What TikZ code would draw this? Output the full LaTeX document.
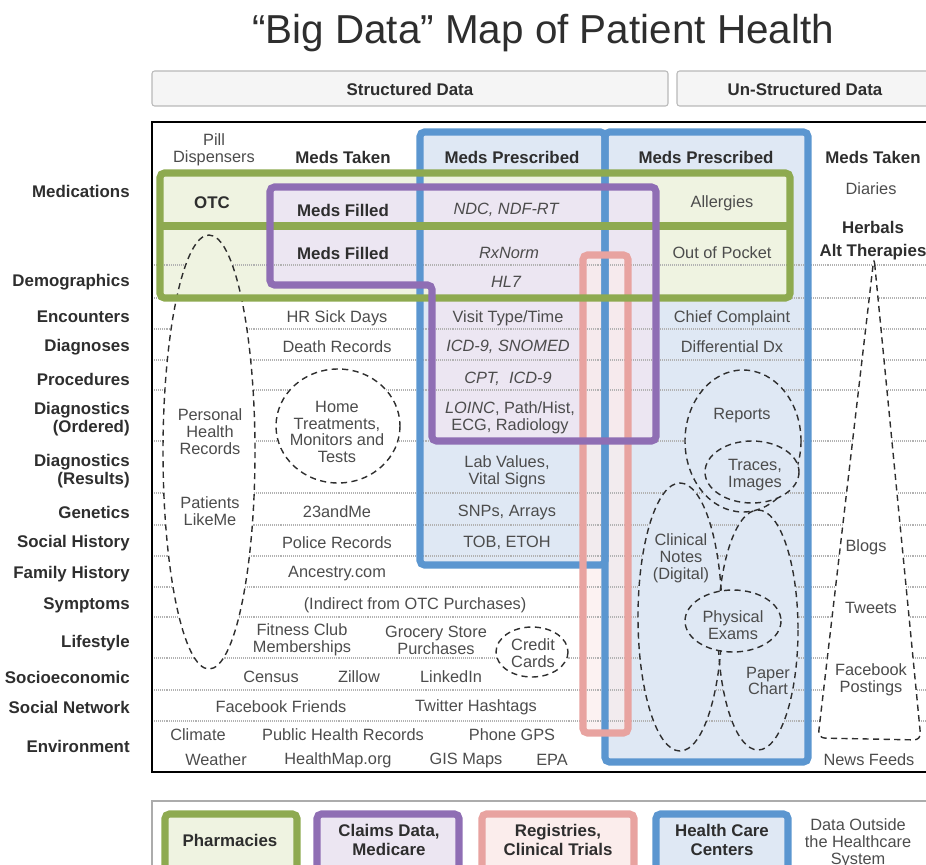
\documentclass[tikz,border=0pt]{standalone}
\usepackage{fontspec}
\setmainfont{Liberation Sans}
\usepackage{xcolor}

\definecolor{hcblue}{HTML}{5B96D0}
\definecolor{hcfill}{HTML}{DFE8F4}
\definecolor{phgreen}{HTML}{8EAA50}
\definecolor{phfill}{HTML}{EFF3E1}
\definecolor{clpurple}{HTML}{8F6EB4}
\definecolor{clfill}{HTML}{ECE6F2}
\definecolor{rgpink}{HTML}{E8A3A0}
\definecolor{rgfill}{HTML}{FBEDEC}
\definecolor{inkdark}{HTML}{2E2E2E}
\definecolor{inkgray}{HTML}{4C4C4C}

\begin{document}
\begin{tikzpicture}[x=0.02cm,y=-0.02cm,
  rowlab/.style={anchor=east,align=right,inner sep=0pt,text=inkdark,font=\fontsize{9.6}{8.8}\selectfont\bfseries},
  entry/.style={align=center,inner sep=0pt,text=inkgray,font=\fontsize{9.3}{9.6}\selectfont},
  bentry/.style={entry,text=inkdark,font=\fontsize{9.6}{11}\selectfont\bfseries},
  ientry/.style={entry,font=\fontsize{9.3}{9.6}\selectfont\itshape},
  rowline/.style={gray!60,line width=0.8pt,dash pattern=on 0.5pt off 0.6pt},
  blob/.style={draw=inkdark,line width=0.8pt,dash pattern=on 3.5pt off 2.5pt},
  srcbox/.style={line width=4pt,rounded corners=2.5pt},
  tab/.style={draw=gray!55,fill=gray!8,rounded corners=1.5pt,line width=0.6pt}
]
  \useasboundingbox (0,0) rectangle (926,865);
  \clip (0,0) rectangle (926,865);

  % title and column tabs
  \node[font=\fontsize{23}{28}\selectfont,text=inkdark] (title) at (543,33) {“Big Data” Map of Patient Health};
  \draw[tab] (152,71) rectangle (668,106);
  \draw[tab] (677,71) rectangle (935,106);
  \node[bentry] (sd) at (410,89) {Structured Data};
  \node[bentry] (ud) at (805,89) {Un-Structured Data};

  % row labels
  \foreach \nm/\yy/\txt in {med/191/Medications, dem/282/Demographics, enc/317/Encounters,
      dia/347/Diagnoses, pro/379/Procedures, dgo/419/{Diagnostics\\(Ordered)},
      dgr/471/{Diagnostics\\(Results)}, gen/512/Genetics, soh/543/Social History,
      fam/574/Family History, sym/605/Symptoms, lif/643/Lifestyle,
      soc/677/Socioeconomic, net/707/Social Network, env/746/Environment}
    \node[rowlab] (\nm) at (130,\yy) {\txt};

  % box fills
  \fill[hcfill] (420,132) rectangle (605,565);
  \fill[hcfill] (605,132) rectangle (808,762);
  \fill[phfill] (160,173) rectangle (790,298);
  \fill[clfill] (270,187) -- (656,187) -- (656,441) -- (432,441) -- (432,285) -- (270,285) -- cycle;
  \fill[rgfill,opacity=0.7] (583,255) rectangle (628,733);

  % dotted row separators
  \foreach \yy in {265,298,329,360,390,441,493,525,556,587,617,658,690,721}
    \draw[rowline] (152,\yy) -- (926,\yy);

  % dashed groupings
  \fill[white] (209,452) ellipse [x radius=46, y radius=217];
  \begin{scope}
    \clip (209,452) ellipse [x radius=46, y radius=217];
    \fill[phfill] (160,173) rectangle (790,298);
  \end{scope}
  \fill[white] (338,426) ellipse [x radius=62, y radius=57];
  \fill[white] (532,652) ellipse [x radius=36, y radius=25];
  \fill[white,rounded corners=4pt] (874,257) -- (921,740) -- (818,738) -- cycle;
  \fill[hcfill] (743,441) ellipse [x radius=58, y radius=71];
  \fill[hcfill] (680,617) ellipse [x radius=42, y radius=134];
  \fill[hcfill] (758,630) ellipse [x radius=40, y radius=120];
  \draw[blob] (209,452) ellipse [x radius=46, y radius=217];
  \draw[blob] (338,426) ellipse [x radius=62, y radius=57];
  \draw[blob] (532,652) ellipse [x radius=36, y radius=25];
  \draw[blob,rounded corners=4pt] (874,257) -- (921,740) -- (818,738) -- cycle;
  \draw[blob] (743,441) ellipse [x radius=58, y radius=71];
  \draw[blob] (680,617) ellipse [x radius=42, y radius=134];
  \draw[blob] (758,630) ellipse [x radius=40, y radius=120];
  \draw[blob,fill=hcfill] (752,472) ellipse [x radius=47, y radius=31];
  \draw[blob,fill=hcfill] (733,621) ellipse [x radius=48, y radius=31];

  % source outlines
  \draw[srcbox,hcblue] (420,132) rectangle (605,565);
  \draw[srcbox,hcblue] (605,132) rectangle (808,762);
  \draw[srcbox,rgpink] (583,255) rectangle (628,733);
  \draw[srcbox,phgreen] (160,173) rectangle (790,298);
  \draw[srcbox,phgreen] (160,226) -- (790,226);
  \draw[srcbox,clpurple] (270,187) -- (656,187) -- (656,441) -- (432,441) -- (432,285) -- (270,285) -- cycle;

  % main frame
  \draw[line width=1.6pt] (152,122) rectangle (940,772);

  % medications block
  \node[entry] (pill) at (214,150) {Pill\\Dispensers};
  \node[bentry] (takenA) at (343,157) {Meds Taken};
  \node[bentry] (prescA) at (512,157) {Meds Prescribed};
  \node[bentry] (prescB) at (706,157) {Meds Prescribed};
  \node[bentry] (takenB) at (873,157) {Meds Taken};
  \node[bentry] (otc) at (212,203) {OTC};
  \node[bentry] (filledA) at (343,210) {Meds Filled};
  \node[bentry] (filledB) at (343,253) {Meds Filled};
  \node[ientry] (ndc) at (506,210) {NDC, NDF-RT};
  \node[ientry] (rxn) at (509,253) {RxNorm};
  \node[ientry] (hl7) at (506,282) {HL7};
  \node[entry] (allerg) at (722,203) {Allergies};
  \node[entry] (oop) at (722,253) {Out of Pocket};
  \node[entry] (diaries) at (871,189) {Diaries};
  \node[bentry] (herbals) at (873,227) {Herbals};
  \node[bentry] (altther) at (873,252) {Alt Therapies};

  % structured rows
  \node[entry] (visit) at (508,318) {Visit Type/Time};
  \node[ientry] (icd) at (508,347) {ICD-9, SNOMED};
  \node[ientry] (cpt) at (508,379) {CPT,\ \ ICD-9};
  \node[entry] (loinc) at (510,418) {\textit{LOINC}, Path/Hist,\\ECG, Radiology};
  \node[entry] (lab) at (507,472) {Lab Values,\\Vital Signs};
  \node[entry] (snp) at (507,512) {SNPs, Arrays};
  \node[entry] (tob) at (507,543) {TOB, ETOH};
  \node[entry] (hrsick) at (337,318) {HR Sick Days};
  \node[entry] (death) at (337,347) {Death Records};
  \node[entry] (home) at (337,432) {Home\\Treatments,\\Monitors and\\Tests};
  \node[entry] (phr) at (210,432) {Personal\\Health\\Records};
  \node[entry] (plm) at (210,511) {Patients\\LikeMe};
  \node[entry] (dna) at (337,512) {23andMe};
  \node[entry] (police) at (337,543) {Police Records};
  \node[entry] (ancestry) at (337,574) {Ancestry.com};
  \node[entry] (indirect) at (415,605) {(Indirect from OTC Purchases)};
  \node[entry] (fitness) at (302,640) {Fitness Club\\Memberships};
  \node[entry] (grocery) at (436,640) {Grocery Store\\Purchases};
  \node[entry] (credit) at (533,653) {Credit\\Cards};
  \node[entry] (census) at (271,677) {Census};
  \node[entry] (zillow) at (359,677) {Zillow};
  \node[entry] (linkedin) at (451,677) {LinkedIn};
  \node[entry] (fbfriends) at (281,707) {Facebook Friends};
  \node[entry] (hashtags) at (476,707) {Twitter Hashtags};
  \node[entry] (climate) at (198,735) {Climate};
  \node[entry] (publichr) at (343,735) {Public Health Records};
  \node[entry] (gps) at (512,735) {Phone GPS};
  \node[entry] (weather) at (216,760) {Weather};
  \node[entry] (healthmap) at (338,760) {HealthMap.org};
  \node[entry] (gis) at (466,760) {GIS Maps};
  \node[entry] (epa) at (552,760) {EPA};

  % unstructured rows
  \node[entry] (chief) at (732,318) {Chief Complaint};
  \node[entry] (ddx) at (732,347) {Differential Dx};
  \node[entry] (reports) at (742,416) {Reports};
  \node[entry] (traces) at (755,475) {Traces,\\Images};
  \node[entry] (notes) at (681,558) {Clinical\\Notes\\(Digital)};
  \node[entry] (exams) at (733,625) {Physical\\Exams};
  \node[entry] (paper) at (768,681) {Paper\\Chart};
  \node[entry] (blogs) at (866,547) {Blogs};
  \node[entry] (tweets) at (871,608) {Tweets};
  \node[entry] (fbpost) at (871,680) {Facebook\\Postings};
  \node[entry] (news) at (869,760) {News Feeds};

  % legend
  \draw[gray!65,line width=0.8pt] (152,801) rectangle (940,880);
  \draw[srcbox,phgreen,fill=phfill] (165,814) rectangle (297,885);
  \draw[srcbox,clpurple,fill=clfill] (317,814) rectangle (459,885);
  \draw[srcbox,rgpink,fill=rgfill] (482,814) rectangle (634,885);
  \draw[srcbox,hcblue,fill=hcfill] (656,814) rectangle (788,885);
  \node[bentry] (kph) at (230,840) {Pharmacies};
  \node[bentry] (kcl) at (389,840) {Claims Data,\\Medicare};
  \node[bentry] (krg) at (558,840) {Registries,\\Clinical Trials};
  \node[bentry] (khc) at (722,840) {Health Care\\Centers};
  \node[entry] (kout) at (858,843) {Data Outside\\the Healthcare\\System};
\end{tikzpicture}
\end{document}
